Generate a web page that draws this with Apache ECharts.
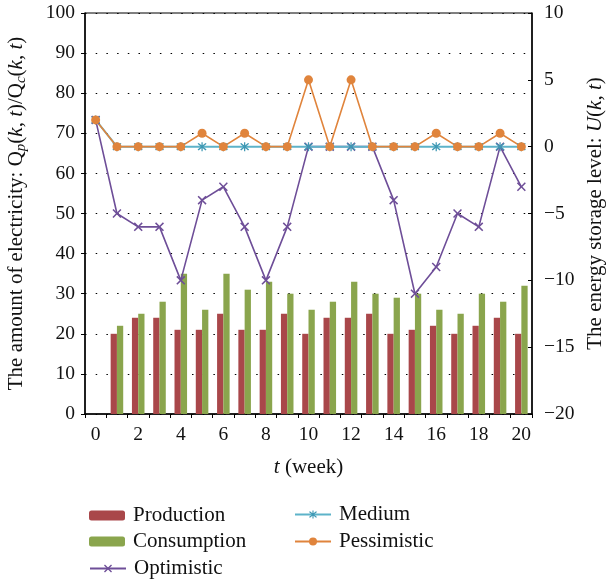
<!DOCTYPE html>
<html>
<head>
<meta charset="utf-8">
<script src="https://cdn.jsdelivr.net/npm/echarts@6/dist/echarts.min.js"></script>
<style>html,body{margin:0;padding:0;background:#fff;}#c{width:608px;height:584px;}</style>
</head>
<body>
<div id="c"></div>
<script>
var weeks = ['0','1','2','3','4','5','6','7','8','9','10','11','12','13','14','15','16','17','18','19','20'];
var production = [null,20,24,24,21,21,25,21,21,25,20,24,24,25,20,21,22,20,22,24,20];
var consumption = [null,22,25,28,35,26,35,31,33,30,26,28,33,30,29,30,26,25,30,28,32];
var optimistic = [2,-5,-6,-6,-10,-4,-3,-6,-10,-6,0,0,0,0,-4,-11,-9,-5,-6,0,-3];
var medium = [2,0,0,0,0,0,0,0,0,0,0,0,0,0,0,0,0,0,0,0,0];
var pessimistic = [2,0,0,0,0,1,0,1,0,0,5,0,5,0,0,0,1,0,0,1,0];

var FONT = 'Liberation Serif';
var crossPath = 'path://M0,1.2 L1.2,0 L5,3.8 L8.8,0 L10,1.2 L6.2,5 L10,8.8 L8.8,10 L5,6.2 L1.2,10 L0,8.8 L3.8,5 Z';
var starPath = 'path://M0,1.2 L1.2,0 L5,3.8 L8.8,0 L10,1.2 L6.2,5 L10,8.8 L8.8,10 L5,6.2 L1.2,10 L0,8.8 L3.8,5 Z M4.3,-1 L5.7,-1 L5.7,11 L4.3,11 Z';
function minus(v){ return String(v).replace('-', '\u2212'); }

var legendText = { fontFamily: FONT, fontSize: 21, color: '#111', padding: [0, 0, 0, 3] };
function lg(name, left, top) {
  return { data: [name], orient: 'vertical', left: left, top: top, itemWidth: 36, itemHeight: 10, itemGap: 13, textStyle: legendText };
}

var chart = echarts.init(document.getElementById('c'));
chart.setOption({
  animation: false,
  backgroundColor: '#fff',
  textStyle: { fontFamily: FONT, color: '#000' },
  grid: { left: 85, right: 76, top: 13, bottom: 170, containLabel: false, outerBoundsMode: 'none',
          show: true, borderColor: '#000', borderWidth: 1, backgroundColor: 'transparent' },
  legend: [
    lg('Production', 84, 500),
    lg('Consumption', 84, 526),
    lg('Optimistic', 84, 553),
    lg('Medium', 289, 499),
    lg('Pessimistic', 289, 526)
  ],
  xAxis: {
    type: 'category', data: weeks, boundaryGap: true,
    name: '{i|t} (week)', nameLocation: 'middle', nameGap: 43,
    nameTextStyle: { fontFamily: FONT, fontSize: 21, color: '#111', rich: { i: { fontFamily: FONT, fontStyle: 'italic', fontSize: 21, color: '#111' } } },
    axisLine: { lineStyle: { color: '#000', width: 1.5 } },
    axisTick: { show: true, interval: 0, length: 4, lineStyle: { color: '#000' } },
    axisLabel: { interval: 1, fontFamily: FONT, fontSize: 19.5, color: '#111', margin: 11 },
    splitLine: { show: false }
  },
  yAxis: [
    { type: 'value', min: 0, max: 100, interval: 10, position: 'left',
      name: 'The amount of electricity: Q{sub|p}({i|k}, {i|t})/Q{sub|c}({i|k}, {i|t})',
      nameLocation: 'middle', nameGap: 56, nameRotate: 90,
      nameTextStyle: { fontFamily: FONT, fontSize: 21, color: '#111',
        rich: { i: { fontFamily: FONT, fontStyle: 'italic', fontSize: 21, color: '#111' },
                sub: { fontFamily: FONT, fontStyle: 'italic', fontSize: 15, color: '#111', padding: [10, 0, 0, 0] } } },
      axisLine: { show: true, lineStyle: { color: '#000', width: 1.5 } },
      axisTick: { show: true, length: 4, lineStyle: { color: '#000' } },
      axisLabel: { fontFamily: FONT, fontSize: 19.5, color: '#111', margin: 10 },
      splitLine: { show: true, lineStyle: { color: '#000', type: [1.5, 9.2], width: 1.2 } }
    },
    { type: 'value', min: -20, max: 10, interval: 5, position: 'right',
      name: 'The energy storage level: {i|U}({i|k}, {i|t})',
      nameLocation: 'middle', nameGap: 53, nameRotate: 90,
      nameTextStyle: { fontFamily: FONT, fontSize: 21, color: '#111',
        rich: { i: { fontFamily: FONT, fontStyle: 'italic', fontSize: 21, color: '#111' } } },
      axisLine: { show: true, lineStyle: { color: '#000', width: 1.5 } },
      axisTick: { show: true, inside: true, length: 4, lineStyle: { color: '#000' } },
      axisLabel: { fontFamily: FONT, fontSize: 19.5, color: '#111', margin: 12, formatter: minus },
      splitLine: { show: false }
    }
  ],
  series: [
    { name: 'Production', type: 'bar', yAxisIndex: 0, data: production, barGap: '0%', barCategoryGap: '41%',
      itemStyle: { color: '#A9474A' } },
    { name: 'Consumption', type: 'bar', yAxisIndex: 0, data: consumption, barGap: '0%', barCategoryGap: '41%',
      itemStyle: { color: '#8AA54D' } },
    { name: 'Optimistic', type: 'line', yAxisIndex: 1, data: optimistic, symbol: crossPath, symbolSize: 9,
      lineStyle: { color: '#6E4E98', width: 1.6 }, itemStyle: { color: '#6E4E98' } },
    { name: 'Medium', type: 'line', yAxisIndex: 1, data: medium, symbol: starPath, symbolSize: 9,
      lineStyle: { color: '#5DB3C9', width: 2 }, itemStyle: { color: '#3E98B4' } },
    { name: 'Pessimistic', type: 'line', yAxisIndex: 1, data: pessimistic, symbol: 'circle', symbolSize: 9,
      lineStyle: { color: '#E0843C', width: 1.6 }, itemStyle: { color: '#E0843C' } }
  ]
});
</script>
</body>
</html>
